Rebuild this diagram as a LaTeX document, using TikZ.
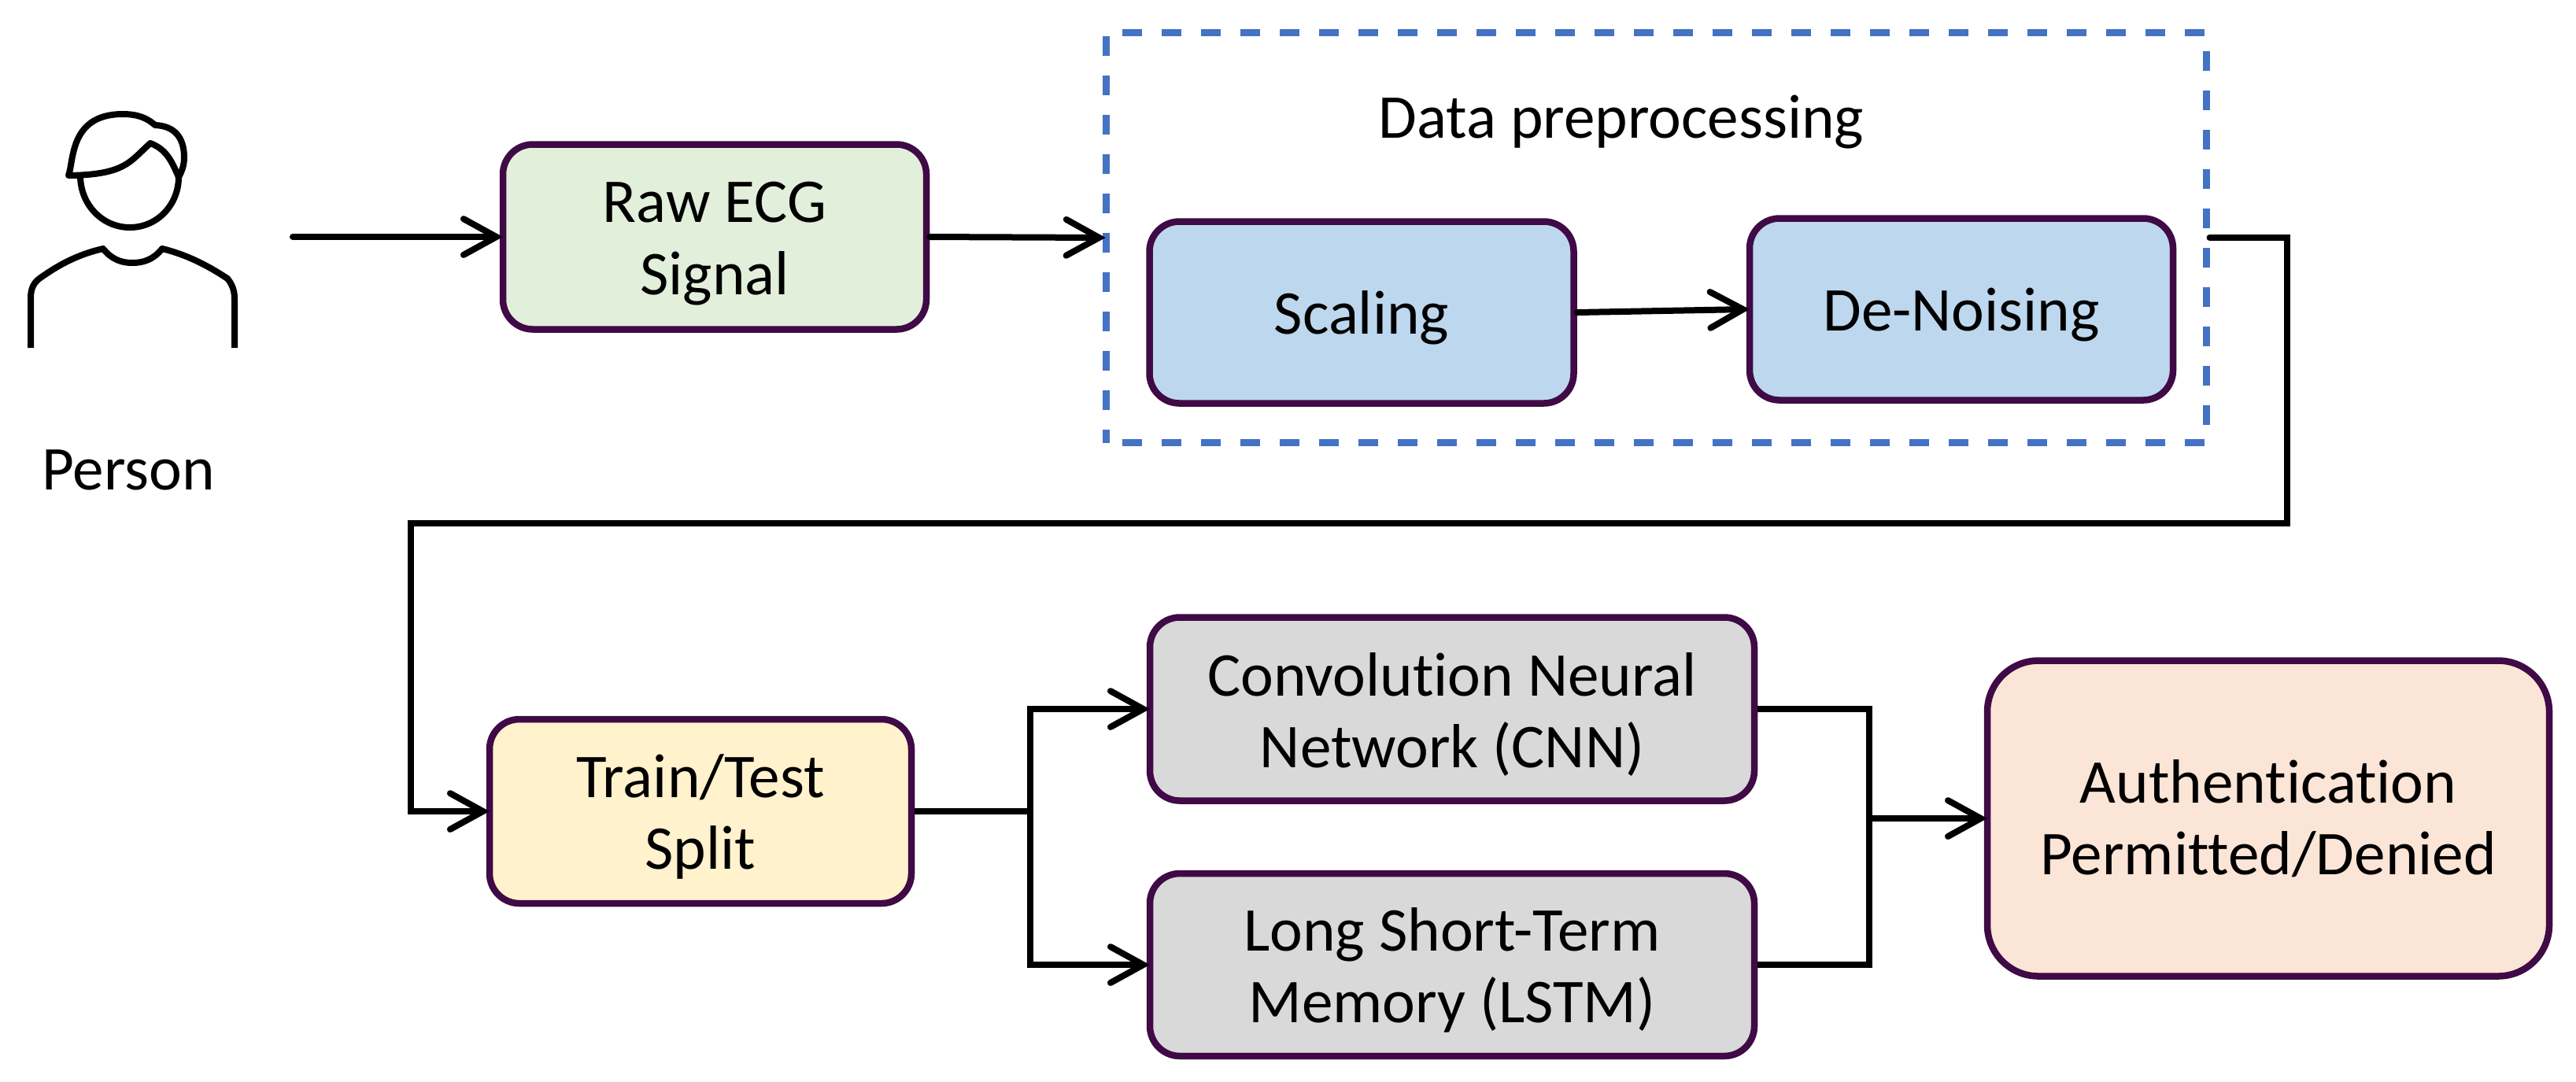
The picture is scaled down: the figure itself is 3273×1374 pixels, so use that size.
\documentclass[tikz,border=0pt]{standalone}
\usepackage{fontspec}
\setmainfont{Carlito}[Ligatures=NoCommon]
\usetikzlibrary{arrows.meta}
\definecolor{boxline}{HTML}{3F0A45}
\definecolor{dashline}{HTML}{4472C4}
\definecolor{rawfill}{HTML}{E2EFDA}
\definecolor{stepfill}{HTML}{BDD7EE}
\definecolor{splitfill}{HTML}{FFF2CC}
\definecolor{modelfill}{HTML}{D9D9D9}
\definecolor{authfill}{HTML}{FBE5D6}
\newcommand{\PX}{0.24pt}
\newcommand{\labelfont}{\fontsize{19}{22}\selectfont}
\newcommand{\lift}{\rule{0pt}{16.5pt}}
\tikzset{
  block/.style={draw=boxline, line width=8.5*\PX, rounded corners=38*\PX, align=center,
    minimum width=#1*\PX, inner sep=0pt, font=\labelfont},
  flow/.style={draw=black, line width=8*\PX, line cap=round, shorten >=-1pt,
    -{Straight Barb[length=10pt,width=11pt,line cap=round]}},
  wire/.style={draw=black, line width=8*\PX}
}

\begin{document}
\begin{tikzpicture}[x=0.24pt, y=-0.24pt]

  \useasboundingbox (0,0) rectangle (3273,1374);

  % person icon
  \begin{scope}[line width=8*\PX, line join=round]
    \draw (87,223) .. controls (94,205) and (88,145) .. (156,145)
      .. controls (175,145) and (187,150) .. (197,159)
      .. controls (222,160) and (234,175) .. (234,200)
      .. controls (234,210) and (231,218) .. (227,225)
      .. controls (218,205) and (212,190) .. (191,182)
      .. controls (165,205) and (160,222) .. (87,223) -- cycle;
    \draw (102,223) .. controls (102,260) and (130,289) .. (165,289)
      .. controls (200,289) and (227,260) .. (227,225);
    \draw (39,442) -- (39,379) .. controls (39,368) and (42,360) .. (50,354)
      .. controls (75,336) and (100,323) .. (131,316)
      .. controls (142,330) and (155,334) .. (168,334)
      .. controls (182,334) and (195,330) .. (206,316)
      .. controls (235,323) and (262,336) .. (289,354)
      .. controls (294,360) and (298,368) .. (298,379) -- (298,442);
  \end{scope}
  \node[font=\labelfont] (personlabel) at (163,597) {Person};

  % boxes
  \node[block=538, minimum height=235*\PX, fill=rawfill] (raw) at (908,301) {\lift Raw ECG\\Signal};
  \node[draw=dashline, dash pattern=on 25*\PX off 25*\PX, dash phase=29*\PX, line width=9*\PX, minimum width=1398*\PX, minimum height=521*\PX, inner sep=0pt] (prep) at (2104,302) {};
  \node[font=\labelfont] (preplabel) at (2060,155) {Data preprocessing};
  \node[block=539, minimum height=231*\PX, fill=stepfill] (scaling) at (1730,397) {\lift Scaling};
  \node[block=538, minimum height=231*\PX, fill=stepfill] (denoise) at (2492,393) {\lift De-Noising};
  \node[block=536, minimum height=234*\PX, fill=splitfill] (split) at (890,1031) {\lift Train/Test\\Split};
  \node[block=768, minimum height=233*\PX, fill=modelfill] (cnn) at (1845,901) {\lift Convolution Neural\\Network (CNN)};
  \node[block=768, minimum height=232*\PX, fill=modelfill] (lstm) at (1845,1226) {\lift Long Short-Term\\Memory (LSTM)};
  \node[block=714, minimum height=401*\PX, rounded corners=65*\PX, fill=authfill] (auth) at (2882,1040) {Authentication\\Permitted/Denied};

  % helper points
  \coordinate (start) at (372,301);
  \coordinate (bendA) at (2906,665);
  \coordinate (bendB) at (522,665);
  \coordinate (fork) at (1309,1031);
  \coordinate (merge) at (2375,1040);

  % connectors
  \draw[flow] (start) -- (raw.west);
  \draw[flow] (raw.east) -- (prep.west);
  \draw[flow] (scaling.east) -- (denoise.west);
  \draw[flow] (prep.east) -| (bendA) -- (bendB) |- (split.west);
  \draw[wire] (split.east) -- (fork);
  \draw[flow] (fork) |- (cnn.west);
  \draw[flow] (fork) |- (lstm.west);
  \draw[wire] (cnn.east) -| (merge) |- (lstm.east);
  \draw[flow] (merge) -- (auth.west);

\end{tikzpicture}
\end{document}
